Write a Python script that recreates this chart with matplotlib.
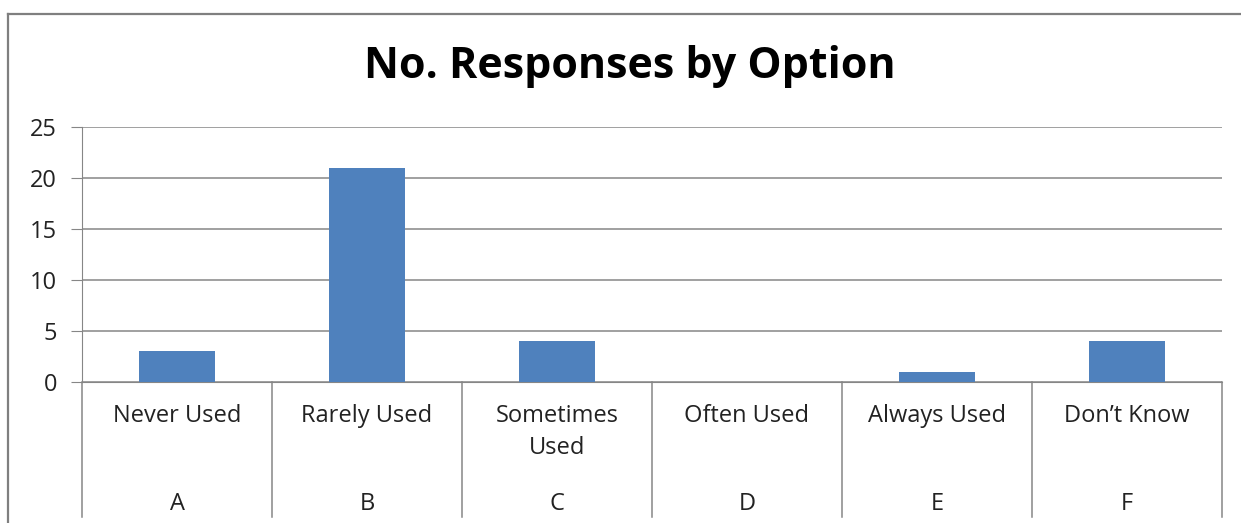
import matplotlib.pyplot as plt
from matplotlib.lines import Line2D

options = ['Never Used', 'Rarely Used', 'Sometimes\nUsed', 'Often Used', 'Always Used', 'Don\u2019t Know']
codes = ['A', 'B', 'C', 'D', 'E', 'F']
responses = [3, 21, 4, 0, 1, 4]

W, H = 1241, 523
plt.rcParams['font.family'] = ['Open Sans', 'DejaVu Sans']

fig = plt.figure(figsize=(W / 100, H / 100), dpi=100)
fig.patch.set_facecolor('white')

def fx(px):
    return px / W

def fy(py):
    return 1 - py / H

ax = fig.add_axes([fx(82), fy(382), fx(1222) - fx(82), fy(127) - fy(382)])
grey = '#868686'

x = list(range(len(options)))
ax.bar(x, responses, width=0.4, color='#4F81BD', zorder=3)
ax.set_xlim(-0.5, len(options) - 0.5)
ax.set_ylim(0, 25)
ax.set_yticks([0, 5, 10, 15, 20, 25])
ax.tick_params(axis='y', labelsize=17, length=8, color=grey, pad=10, labelcolor='#222222')
ax.set_xticks([])
ax.yaxis.grid(True, color=grey, lw=1.1, zorder=0)
for s in ['top', 'right']:
    ax.spines[s].set_visible(False)
ax.spines['left'].set_color(grey)
ax.spines['bottom'].set_color(grey)

# multi-level category axis: separators and labels
for i in range(len(options) + 1):
    xb = i - 0.5
    ax.plot([xb, xb], [0, -13.2], color=grey, lw=1.1, clip_on=False)
for i, (opt, code) in enumerate(zip(options, codes)):
    ax.text(i, -2.2, opt, ha='center', va='top', fontsize=17, color='#222222',
            linespacing=1.4)
    ax.text(i, -10.8, code, ha='center', va='top', fontsize=17, color='#222222')

fig.text(fx(630), fy(67), 'No. Responses by Option', ha='center', va='center',
         fontsize=31, fontweight='bold', color='black')

# chart border (cut off at right and bottom)
fig.add_artist(Line2D([fx(8), 1], [fy(14), fy(14)], color='#7f7f7f', lw=1.6))
fig.add_artist(Line2D([fx(8), fx(8)], [fy(14), 0], color='#7f7f7f', lw=1.6))

fig.savefig('out.png', dpi=100)
